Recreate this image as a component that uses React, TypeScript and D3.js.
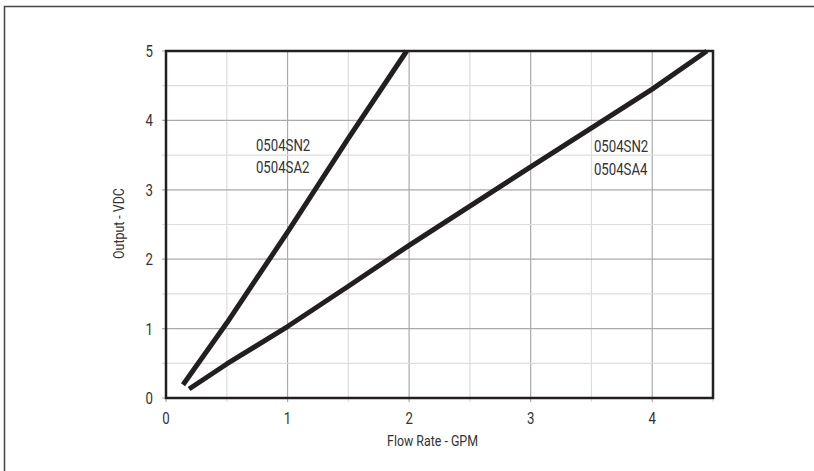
import React from 'react';
import * as d3 from 'd3';

const WIDTH = 814;
const HEIGHT = 471;
const MARGIN = { top: 51, right: 101, bottom: 73, left: 166 };

const xTicks = [0, 1, 2, 3, 4];
const yTicks = [0, 1, 2, 3, 4, 5];

// 0504SN2 / 0504SA2
const steepX = [0.14, 0.5, 1.0, 1.5, 1.98];
const steepY = [0.19, 1.08, 2.39, 3.74, 5.0];

// 0504SN2 / 0504SA4
const shallowX = [0.19, 0.5, 1.0, 1.5, 2.0, 3.0, 4.0, 4.45];
const shallowY = [0.13, 0.49, 1.03, 1.61, 2.2, 3.33, 4.45, 5.0];

const series = [
  { name: ['0504SN2', '0504SA2'], xs: steepX, ys: steepY, labelAt: [0.74, 3.56] },
  { name: ['0504SN2', '0504SA4'], xs: shallowX, ys: shallowY, labelAt: [3.52, 3.54] },
];

const FONT = 'Roboto, "DejaVu Sans", sans-serif';
const SX = 0.8; // horizontal squeeze for the condensed look

type TxtProps = {
  x: number;
  y: number;
  size: number;
  anchor?: 'start' | 'middle' | 'end';
  rotate?: number;
  children: React.ReactNode;
};

const Txt = ({ x, y, size, anchor = 'start', rotate = 0, children }: TxtProps) => (
  <text
    transform={`translate(${x},${y}) rotate(${rotate}) scale(${SX},1)`}
    textAnchor={anchor}
    fontSize={size}
    fill="#333"
  >
    {children}
  </text>
);

export default function App() {
  const boundsWidth = WIDTH - MARGIN.left - MARGIN.right;
  const boundsHeight = HEIGHT - MARGIN.top - MARGIN.bottom;

  const xScale = d3.scaleLinear().domain([0, 4.5]).range([0, boundsWidth]);
  const yScale = d3.scaleLinear().domain([0, 5]).range([boundsHeight, 0]);

  const line = d3
    .line<[number, number]>()
    .x((d) => xScale(d[0]))
    .y((d) => yScale(d[1]));

  const halfX = d3.range(0, 4.51, 0.5);
  const halfY = d3.range(0, 5.01, 0.5);

  return (
    <svg
      width={WIDTH}
      height={HEIGHT}
      style={{ position: 'absolute', left: 0, top: 0, background: '#fff' }}
      fontFamily={FONT}
    >
      <rect x={4.5} y={6.5} width={WIDTH + 10} height={HEIGHT + 10} fill="none" stroke="#444" strokeWidth={1.5} />
      <g transform={`translate(${MARGIN.left},${MARGIN.top})`}>
        {/* grid */}
        {halfX.map((v, i) => (
          <line
            key={'gx' + i}
            x1={xScale(v)}
            x2={xScale(v)}
            y1={0}
            y2={boundsHeight + 4}
            stroke={Number.isInteger(v) ? '#aaa' : '#ddd'}
            strokeWidth={1.2}
          />
        ))}
        {halfY.map((v, i) => (
          <line
            key={'gy' + i}
            x1={-4}
            x2={boundsWidth}
            y1={yScale(v)}
            y2={yScale(v)}
            stroke={Number.isInteger(v) ? '#aaa' : '#ddd'}
            strokeWidth={1.2}
          />
        ))}
        <rect x={0} y={0} width={boundsWidth} height={boundsHeight} fill="none" stroke="#231f20" strokeWidth={2.5} />

        {/* tick labels */}
        {xTicks.map((v) => (
          <Txt key={'xt' + v} x={xScale(v)} y={boundsHeight + 26} size={16.5} anchor="middle">
            {v}
          </Txt>
        ))}
        {yTicks.map((v) => (
          <Txt key={'yt' + v} x={-13} y={yScale(v) + 6} size={16.5} anchor="end">
            {v}
          </Txt>
        ))}

        {/* axis titles */}
        <Txt x={boundsWidth / 2 - 7} y={boundsHeight + 48} size={15.5} anchor="middle">
          Flow Rate - GPM
        </Txt>
        <Txt x={-42} y={boundsHeight / 2 - 1} size={15.5} anchor="middle" rotate={-90}>
          Output - VDC
        </Txt>

        {/* curves */}
        {series.map((s, i) => (
          <path
            key={'s' + i}
            d={line(s.xs.map((x, j) => [x, s.ys[j]] as [number, number])) || ''}
            fill="none"
            stroke="#231f20"
            strokeWidth={5}
            strokeLinejoin="round"
          />
        ))}
        {series.map((s, i) =>
          s.name.map((n, j) => (
            <Txt key={'l' + i + j} x={xScale(s.labelAt[0])} y={yScale(s.labelAt[1]) + j * 22.5} size={16.5}>
              {n}
            </Txt>
          ))
        )}
      </g>
    </svg>
  );
}
